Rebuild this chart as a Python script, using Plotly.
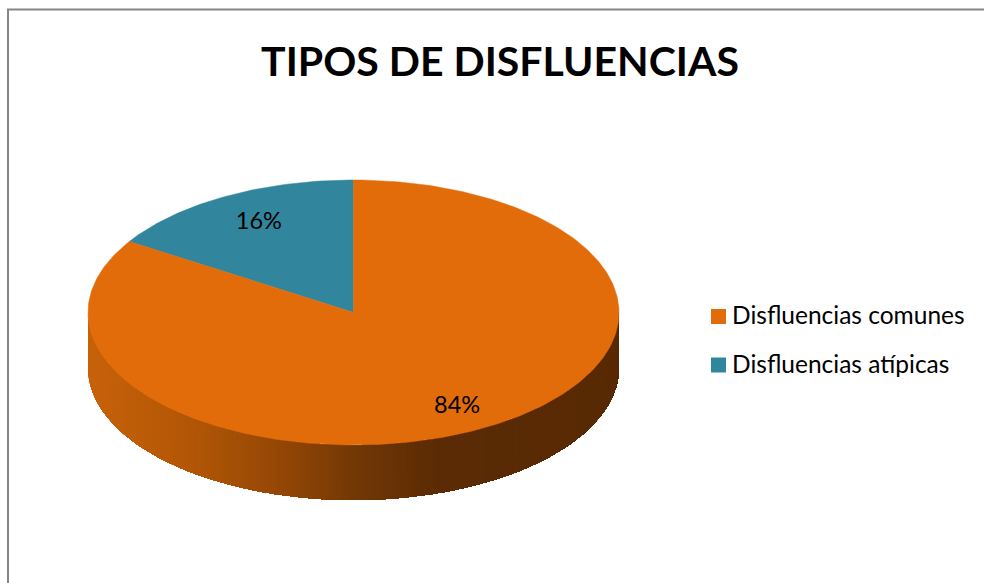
import math
import plotly.graph_objects as go

# ---- data ----
categories = ["Disfluencias comunes", "Disfluencias atípicas"]
values = [84, 16]
labels = ["84%", "16%"]
title_text = "TIPOS DE DISFLUENCIAS"

# ---- style ----
colors = ["#E26B0A", "#31859C"]
CX, CY, RX, RY, DEPTH = 353.5, 312.5, 265.5, 132.5, 55
label_rx = [0.81, 0.74]
label_ry = [0.815, 0.77]
FONT = "Lato, Carlito, sans-serif"
legend_x = 718.5
legend_text_x = 732
legend_y = [316.5, 365]
side_stops = [(88, (200, 98, 10)), (200, (176, 85, 5)), (300, (140, 67, 5)),
              (353, (115, 56, 5)), (440, (90, 43, 4)), (619, (88, 42, 3))]


def side_color(x):
    for (x0, c0), (x1, c1) in zip(side_stops, side_stops[1:]):
        if x <= x1:
            t = max(0, (x - x0) / (x1 - x0))
            return "rgb(%d,%d,%d)" % tuple(round(a + (b - a) * t) for a, b in zip(c0, c1))
    return "rgb(%d,%d,%d)" % side_stops[-1][1]


def pt(frac, rx=1.0, ry=1.0):
    """frac = share of the circle, counter-clockwise from 12 o'clock."""
    a = 2 * math.pi * frac
    return CX - RX * rx * math.sin(a), CY - RY * ry * math.cos(a)


fig = go.Figure()

# side wall of the disc (front half): each band paints everything to its right,
# so later bands overlap earlier ones and no seams show
N = 200
for i in range(N):
    angles = [math.pi * k / N for k in range(i, N + 1)]
    xs = [CX - RX * math.cos(a) for a in angles]
    ys = [CY + RY * math.sin(a) for a in angles]
    px = xs + xs[::-1] + [xs[0]]
    py = ys + [y + DEPTH for y in ys[::-1]] + [ys[0]]
    c = side_color((xs[0] + xs[1]) / 2)
    fig.add_trace(go.Scatter(
        x=px, y=py, mode="none", fill="toself", fillcolor=c,
        hoverinfo="skip", showlegend=False))

# top face slices, counter-clockwise from 12 o'clock, smallest first
total = sum(values)
order = [1, 0]
start = 0.0
label_x, label_y = [None, None], [None, None]
for idx in order:
    share = values[idx] / total
    steps = max(2, int(share * 400))
    pts = [pt(start + share * k / steps) for k in range(steps + 1)]
    xs = [CX] + [p[0] for p in pts] + [CX]
    ys = [CY] + [p[1] for p in pts] + [CY]
    fig.add_trace(go.Scatter(
        x=xs, y=ys, mode="lines", fill="toself", fillcolor=colors[idx],
        line=dict(color=colors[idx], width=0.5), hoverinfo="skip", showlegend=False))
    label_x[idx], label_y[idx] = pt(start + share / 2, label_rx[idx], label_ry[idx])
    start += share

# data labels
fig.add_trace(go.Scatter(
    x=label_x, y=label_y, mode="text", text=labels, textposition="middle center",
    textfont=dict(family=FONT, size=23.5, color="#000000"),
    hoverinfo="skip", showlegend=False))

# legend entries: swatch and label
for name, col, ly in zip(categories, colors, legend_y):
    fig.add_trace(go.Scatter(
        x=[legend_x], y=[ly], mode="markers", name=name,
        marker=dict(symbol="square", size=15, color=col),
        hoverinfo="skip", showlegend=False))
    fig.add_trace(go.Scatter(
        x=[legend_text_x], y=[ly + 1.5], mode="text", text=[name],
        textposition="middle right",
        textfont=dict(family=FONT, size=24.5, color="#000000"),
        hoverinfo="skip", showlegend=False))

fig.update_layout(
    width=984, height=583, autosize=False,
    margin=dict(l=0, r=0, t=0, b=0),
    paper_bgcolor="#FFFFFF", plot_bgcolor="#FFFFFF",
    title=dict(text="<b>" + title_text + "</b>", x=500 / 984, xanchor="center",
               y=1 - 62 / 583, yanchor="middle",
               font=dict(family=FONT, size=41, color="#000000")),
    xaxis=dict(range=[0, 984], visible=False, fixedrange=True),
    yaxis=dict(range=[583, 0], visible=False, fixedrange=True),
    shapes=[dict(type="path", xref="paper", yref="paper",
                 path="M %f,0 L %f,%f L 1,%f" % (8 / 984, 8 / 984, 1 - 9.5 / 583, 1 - 9.5 / 583),
                 line=dict(color="#868686", width=2), layer="below")],
)

fig.write_html("out.html", config={"displayModeBar": False},
               post_script="document.body.style.margin='0';")
